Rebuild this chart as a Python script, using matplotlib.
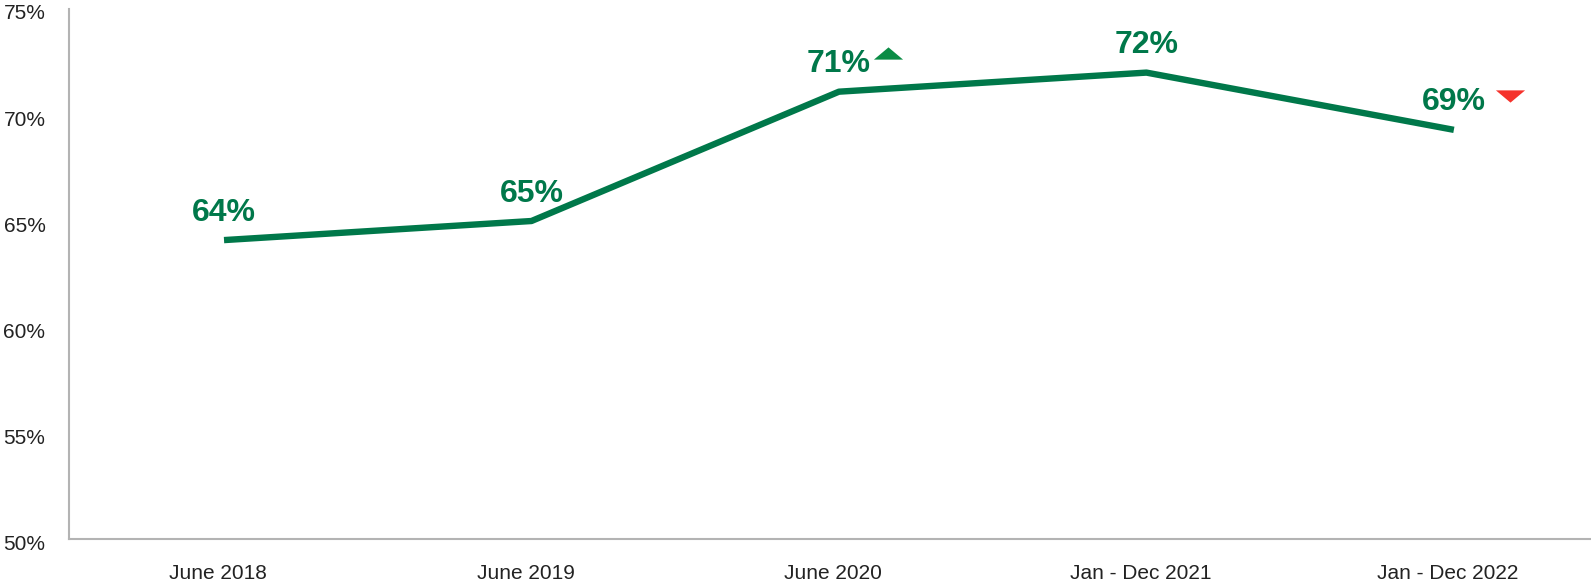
import matplotlib

matplotlib.use("Agg")
import matplotlib.pyplot as plt
import matplotlib.transforms as mtransforms
from matplotlib.ticker import FuncFormatter

periods = ["June 2018", "June 2019", "June 2020", "Jan - Dec 2021", "Jan - Dec 2022"]
share = [64.1, 65.0, 71.1, 72.0, 69.3]
# change markers next to a label: +1 up, -1 down, 0 none
trend = [0, 0, 1, 0, -1]

GREEN = "#00784a"
UP_GREEN = "#0a8c45"
DOWN_RED = "#f5322b"
GREY_TXT = "#222222"

plt.rcParams["font.family"] = ["Liberation Sans", "DejaVu Sans"]

fig = plt.figure(figsize=(15.91, 5.84), dpi=100)
ax = fig.add_axes([0.0434, 0.077, 0.9566, 0.9076])

x = list(range(len(periods)))
ax.plot(x, share, color=GREEN, linewidth=4.6, solid_capstyle="butt", zorder=3)

for xi, v in zip(x, share):
    ax.annotate(f"{round(v)}%", (xi, v), xytext=(0, 9), textcoords="offset points",
                ha="center", va="bottom", fontsize=23, fontweight="bold", color=GREEN)

# flattened triangle markers
up_tri = [(-1, -0.42), (1, -0.42), (0, 0.42), (-1, -0.42)]
down_tri = [(-1, 0.42), (1, 0.42), (0, -0.42), (-1, 0.42)]
for xi, v, t in zip(x, share, trend):
    if t == 0:
        continue
    if t > 0:
        tr = mtransforms.offset_copy(ax.transData, fig, x=49, y=39, units="dots")
        ax.plot(xi, v, marker=up_tri, markersize=21, color=UP_GREEN, transform=tr,
                linestyle="none", clip_on=False, markeredgewidth=0)
    else:
        tr = mtransforms.offset_copy(ax.transData, fig, x=56, y=34, units="dots")
        ax.plot(xi, v, marker=down_tri, markersize=21, color=DOWN_RED, transform=tr,
                linestyle="none", clip_on=False, markeredgewidth=0)

ax.set_ylim(50, 75)
ax.set_yticks([50, 55, 60, 65, 70, 75])
ax.yaxis.set_major_formatter(FuncFormatter(lambda v, p: f"{v:.0f}%"))
ax.set_xlim(-0.504, 4.446)
ax.set_xticks(x)
ax.set_xticklabels(periods)

ax.tick_params(axis="y", length=0, pad=17, labelsize=15, labelcolor=GREY_TXT)
ax.tick_params(axis="x", length=0, pad=18, labelsize=15, labelcolor=GREY_TXT)
for lbl in ax.get_xticklabels():
    lbl.set_transform(lbl.get_transform() + mtransforms.Affine2D().translate(-6, 0))
for lbl in ax.get_yticklabels():
    lbl.set_transform(lbl.get_transform() + mtransforms.Affine2D().translate(0, -3))

for side in ["top", "right"]:
    ax.spines[side].set_visible(False)
for side in ["left", "bottom"]:
    ax.spines[side].set_color("#b3b3b3")
    ax.spines[side].set_linewidth(1.5)

fig.savefig("out.png", dpi=100)
